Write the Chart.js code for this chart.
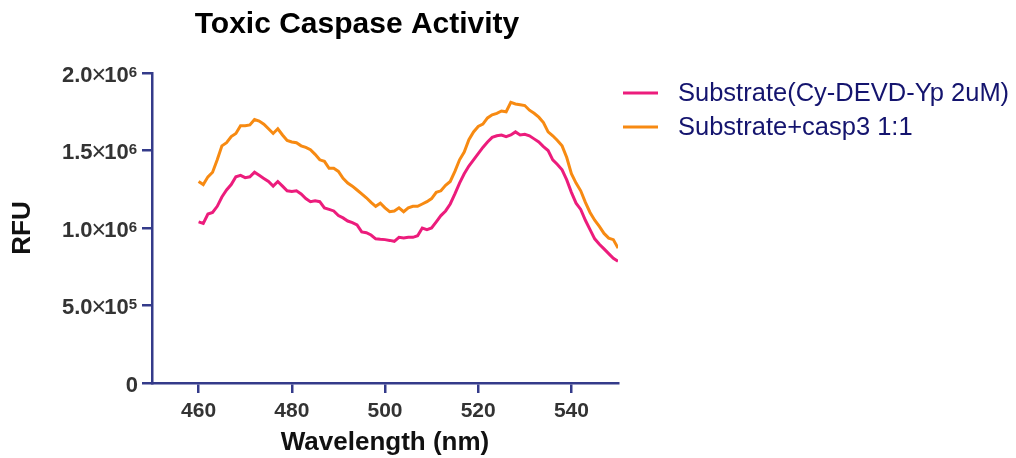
<!DOCTYPE html>
<html>
<head>
<meta charset="utf-8">
<script src="https://cdn.jsdelivr.net/npm/chart.js@4.4.1/dist/chart.umd.min.js"></script>
<style>
  html, body { margin: 0; padding: 0; background: #ffffff; }
  #wrap { width: 1016px; height: 458px; position: relative; }
</style>
</head>
<body>
<div id="wrap"><canvas id="c"></canvas></div>
<script>
// ---- data ----
const chartTitle = 'Toxic Caspase Activity';
const xTitle = 'Wavelength (nm)';
const yTitle = 'RFU';
const seriesNames = ['Substrate(Cy-DEVD-Yp 2uM)', 'Substrate+casp3 1:1'];

const wavelengths = [460,461,462,463,464,465,466,467,468,469,
  470,471,472,473,474,475,476,477,478,479,
  480,481,482,483,484,485,486,487,488,489,
  490,491,492,493,494,495,496,497,498,499,
  500,501,502,503,504,505,506,507,508,509,
  510,511,512,513,514,515,516,517,518,519,
  520,521,522,523,524,525,526,527,528,529,
  530,531,532,533,534,535,536,537,538,539,
  540,541,542,543,544,545,546,547,548,549,550];

const substrate = [1.04e6,1.03e6,1.09e6,1.10e6,1.14e6,1.20e6,1.245e6,1.28e6,1.33e6,1.34e6,
  1.325e6,1.33e6,1.36e6,1.34e6,1.32e6,1.30e6,1.27e6,1.30e6,1.27e6,1.24e6,
  1.235e6,1.24e6,1.22e6,1.19e6,1.17e6,1.175e6,1.17e6,1.13e6,1.12e6,1.11e6,
  1.08e6,1.065e6,1.045e6,1.035e6,1.02e6,0.975e6,0.97e6,0.955e6,0.93e6,0.927e6,
  0.925e6,0.92e6,0.914e6,0.94e6,0.935e6,0.94e6,0.94e6,0.95e6,1.00e6,0.99e6,
  1.00e6,1.04e6,1.08e6,1.11e6,1.155e6,1.22e6,1.29e6,1.35e6,1.40e6,1.44e6,
  1.48e6,1.52e6,1.555e6,1.585e6,1.595e6,1.60e6,1.59e6,1.60e6,1.62e6,1.60e6,
  1.605e6,1.595e6,1.575e6,1.555e6,1.525e6,1.50e6,1.44e6,1.41e6,1.375e6,1.31e6,
  1.23e6,1.16e6,1.12e6,1.05e6,0.99e6,0.93e6,0.895e6,0.865e6,0.835e6,0.805e6,0.785e6];

const substrateCasp3 = [1.30e6,1.28e6,1.33e6,1.36e6,1.44e6,1.53e6,1.55e6,1.59e6,1.61e6,1.66e6,
  1.66e6,1.665e6,1.70e6,1.69e6,1.67e6,1.64e6,1.61e6,1.64e6,1.60e6,1.565e6,
  1.555e6,1.55e6,1.53e6,1.52e6,1.505e6,1.475e6,1.44e6,1.43e6,1.385e6,1.385e6,
  1.365e6,1.32e6,1.29e6,1.27e6,1.245e6,1.22e6,1.195e6,1.165e6,1.14e6,1.16e6,
  1.13e6,1.105e6,1.11e6,1.13e6,1.105e6,1.13e6,1.14e6,1.14e6,1.155e6,1.17e6,
  1.19e6,1.23e6,1.24e6,1.275e6,1.30e6,1.365e6,1.44e6,1.49e6,1.57e6,1.62e6,
  1.655e6,1.67e6,1.71e6,1.73e6,1.74e6,1.755e6,1.75e6,1.81e6,1.80e6,1.795e6,
  1.79e6,1.76e6,1.74e6,1.715e6,1.68e6,1.62e6,1.595e6,1.565e6,1.53e6,1.455e6,
  1.35e6,1.29e6,1.24e6,1.165e6,1.10e6,1.05e6,1.01e6,0.965e6,0.935e6,0.925e6,0.87e6];

const xTickValues = [460, 480, 500, 520, 540];
const yTickValues = [0, 500000, 1000000, 1500000, 2000000];
const yTickMantissas = ['0', '5.0', '1.0', '1.5', '2.0'];
const yTickExponents = ['', '5', '6', '6', '6'];

// ---- styling ----
const axisColor = '#343B8A';
const tickTextColor = '#333333';
const seriesColors = ['#EC1C7C', '#F78A12'];
const FONT = "'Liberation Sans', Arial, sans-serif";

const toPoints = (xs, ys) => xs.map((x, i) => ({ x: x, y: ys[i] }));

const titlePlugin = {
  id: 'customTitle',
  afterDraw(chart) {
    const ctx = chart.ctx;
    const a = chart.chartArea;
    ctx.save();
    ctx.font = "bold 30px " + FONT;
    ctx.fillStyle = '#000000';
    ctx.textAlign = 'center';
    ctx.textBaseline = 'middle';
    ctx.fillText(chartTitle, a.left + 205, 25);
    ctx.restore();
  }
};

// y tick labels in scientific notation with a real superscript exponent
const yLabelPlugin = {
  id: 'yLabels',
  afterDraw(chart) {
    const ctx = chart.ctx;
    const ys = chart.scales.y;
    const right = ys.right - 16;
    ctx.save();
    ctx.fillStyle = tickTextColor;
    ctx.textBaseline = 'alphabetic';
    ctx.textAlign = 'left';
    yTickValues.forEach((v, i) => {
      const y = ys.getPixelForValue(v);
      const base = y + 8.5;
      const mant = yTickMantissas[i];
      const exp = yTickExponents[i];
      const fMain = "bold 22px " + FONT;
      const fCross = "25px " + FONT;
      const fExp = "bold 15px " + FONT;
      if (!exp) {
        ctx.font = fMain;
        const w = ctx.measureText(mant).width;
        ctx.fillText(mant, right + 2 - w, base);
        return;
      }
      ctx.font = fExp; const wExp = ctx.measureText(exp).width;
      ctx.font = fMain; const wTen = ctx.measureText('10').width;
      ctx.font = fCross; const wX = ctx.measureText('\u00d7').width;
      ctx.font = fMain; const wM = ctx.measureText(mant).width;
      let x = right - wExp - wTen - (wX - 3) - wM + 1;
      ctx.font = fMain; ctx.fillText(mant, x, base); x += wM - 1;
      ctx.font = fCross; ctx.fillText('\u00d7', x, base + 1); x += wX - 2;
      ctx.font = fMain; ctx.fillText('10', x, base); x += wTen;
      ctx.font = fExp; ctx.fillText(exp, x, base - 5);
    });
    ctx.restore();
  }
};

const legendPlugin = {
  id: 'customLegend',
  afterDraw(chart) {
    const ctx = chart.ctx;
    const a = chart.chartArea;
    const x0 = a.right + 5;
    const rows = [a.top + 20, a.top + 54];
    ctx.save();
    chart.data.datasets.forEach((ds, i) => {
      const y = rows[i];
      ctx.strokeStyle = ds.borderColor;
      ctx.lineWidth = 3;
      ctx.beginPath();
      ctx.moveTo(x0, y);
      ctx.lineTo(x0 + 35, y);
      ctx.stroke();
      ctx.font = "25.5px " + FONT;
      ctx.fillStyle = '#14146E';
      ctx.textAlign = 'left';
      ctx.textBaseline = 'middle';
      ctx.fillText(ds.label, x0 + 55, y + 1);
    });
    ctx.restore();
  }
};

new Chart(document.getElementById('c'), {
  type: 'line',
  data: {
    datasets: [
      {
        label: seriesNames[0],
        data: toPoints(wavelengths, substrate),
        borderColor: seriesColors[0],
        backgroundColor: seriesColors[0],
        borderWidth: 3,
        pointRadius: 0,
        tension: 0,
        fill: false
      },
      {
        label: seriesNames[1],
        data: toPoints(wavelengths, substrateCasp3),
        borderColor: seriesColors[1],
        backgroundColor: seriesColors[1],
        borderWidth: 3,
        pointRadius: 0,
        tension: 0,
        fill: false
      }
    ]
  },
  options: {
    responsive: true,
    maintainAspectRatio: false,
    devicePixelRatio: 1,
    animation: false,
    layout: { padding: { left: 0, top: 73, right: 398, bottom: 0 } },
    plugins: {
      legend: { display: false },
      title: { display: false },
      tooltip: { enabled: false }
    },
    scales: {
      x: {
        type: 'linear',
        min: 450,
        max: 550,
        afterBuildTicks: (scale) => { scale.ticks = xTickValues.map(v => ({ value: v })); },
        afterFit: (scale) => { scale.height = 75; },
        border: { display: true, color: axisColor, width: 2.5 },
        grid: { display: true, drawOnChartArea: false, drawTicks: true, tickLength: 10, color: axisColor, lineWidth: 2.5 },
        ticks: {
          font: { family: FONT, size: 21, weight: 'bold' },
          color: tickTextColor,
          padding: 6,
          maxRotation: 0,
          callback: (v) => String(v)
        },
        title: {
          display: true,
          text: xTitle,
          font: { family: FONT, size: 26, weight: 'bold' },
          color: '#111111',
          padding: { top: 0, bottom: 0 }
        }
      },
      y: {
        type: 'linear',
        min: 0,
        max: 2000000,
        afterBuildTicks: (scale) => { scale.ticks = yTickValues.map(v => ({ value: v })); },
        afterFit: (scale) => { scale.width = 152; },
        border: { display: true, color: axisColor, width: 2.5 },
        grid: { display: true, drawOnChartArea: false, drawTicks: true, tickLength: 10, color: axisColor, lineWidth: 2.5 },
        ticks: {
          font: { family: FONT, size: 21, weight: 'bold' },
          color: tickTextColor,
          padding: 6,
          callback: () => ''
        },
        title: {
          display: true,
          text: yTitle,
          font: { family: FONT, size: 26, weight: 'bold' },
          color: '#111111',
          padding: { top: 7, bottom: 0 }
        }
      }
    }
  },
  plugins: [titlePlugin, yLabelPlugin, legendPlugin]
});
</script>
</body>
</html>
